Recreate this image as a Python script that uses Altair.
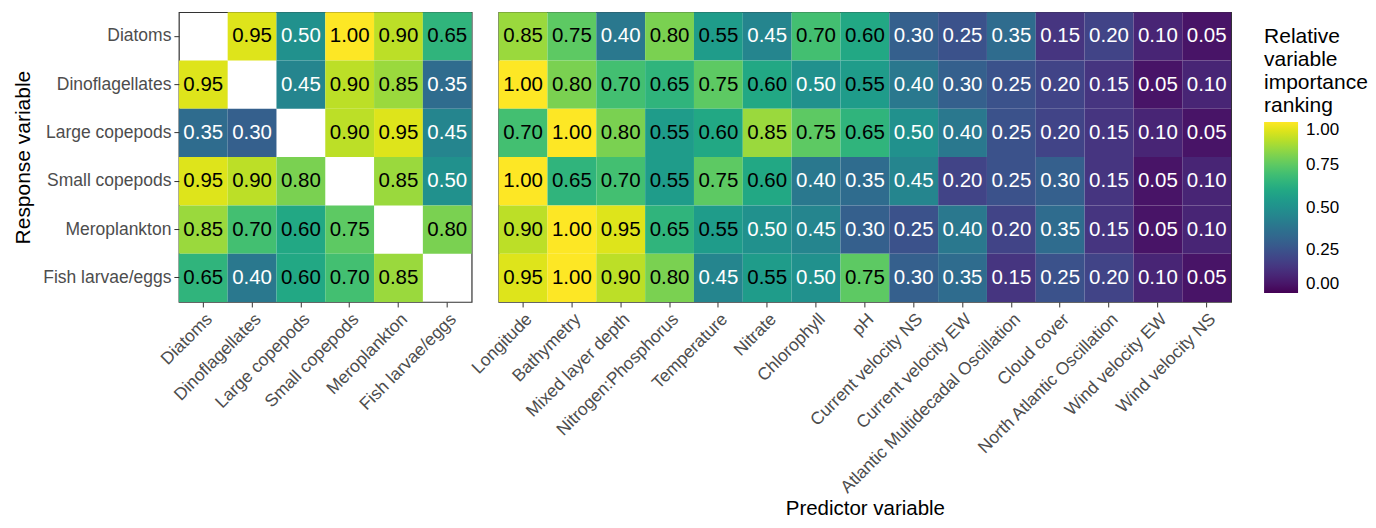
import altair as alt
import pandas as pd

responses = ["Diatoms", "Dinoflagellates", "Large copepods", "Small copepods",
             "Meroplankton", "Fish larvae/eggs"]

taxa_predictors = ["Diatoms", "Dinoflagellates", "Large copepods", "Small copepods",
                   "Meroplankton", "Fish larvae/eggs"]

env_predictors = ["Longitude", "Bathymetry", "Mixed layer depth", "Nitrogen:Phosphorus",
                  "Temperature", "Nitrate", "Chlorophyll", "pH", "Current velocity NS",
                  "Current velocity EW", "Atlantic Multidecadal Oscillation", "Cloud cover",
                  "North Atlantic Oscillation", "Wind velocity EW", "Wind velocity NS"]

# taxa panel (None = self, not drawn)
taxa_diatoms = [None, 0.95, 0.50, 1.00, 0.90, 0.65]
taxa_dinoflagellates = [0.95, None, 0.45, 0.90, 0.85, 0.35]
taxa_large_copepods = [0.35, 0.30, None, 0.90, 0.95, 0.45]
taxa_small_copepods = [0.95, 0.90, 0.80, None, 0.85, 0.50]
taxa_meroplankton = [0.85, 0.70, 0.60, 0.75, None, 0.80]
taxa_fish_larvae = [0.65, 0.40, 0.60, 0.70, 0.85, None]

# environmental panel
env_diatoms = [0.85, 0.75, 0.40, 0.80, 0.55, 0.45, 0.70, 0.60, 0.30, 0.25, 0.35, 0.15, 0.20, 0.10, 0.05]
env_dinoflagellates = [1.00, 0.80, 0.70, 0.65, 0.75, 0.60, 0.50, 0.55, 0.40, 0.30, 0.25, 0.20, 0.15, 0.05, 0.10]
env_large_copepods = [0.70, 1.00, 0.80, 0.55, 0.60, 0.85, 0.75, 0.65, 0.50, 0.40, 0.25, 0.20, 0.15, 0.10, 0.05]
env_small_copepods = [1.00, 0.65, 0.70, 0.55, 0.75, 0.60, 0.40, 0.35, 0.45, 0.20, 0.25, 0.30, 0.15, 0.05, 0.10]
env_meroplankton = [0.90, 1.00, 0.95, 0.65, 0.55, 0.50, 0.45, 0.30, 0.25, 0.40, 0.20, 0.35, 0.15, 0.05, 0.10]
env_fish_larvae = [0.95, 1.00, 0.90, 0.80, 0.45, 0.55, 0.50, 0.75, 0.30, 0.35, 0.15, 0.25, 0.20, 0.10, 0.05]

taxa_rows = [taxa_diatoms, taxa_dinoflagellates, taxa_large_copepods,
             taxa_small_copepods, taxa_meroplankton, taxa_fish_larvae]
env_rows = [env_diatoms, env_dinoflagellates, env_large_copepods,
            env_small_copepods, env_meroplankton, env_fish_larvae]


def long_df(rows, preds):
    out = []
    for r, vals in zip(responses, rows):
        for p, v in zip(preds, vals):
            if v is not None:
                out.append({"response": r, "predictor": p, "value": v})
    return pd.DataFrame(out)


df_taxa = long_df(taxa_rows, taxa_predictors)
df_env = long_df(env_rows, env_predictors)

color_scale = alt.Scale(scheme="viridis", domain=[0, 1])
legend = alt.Legend(
    title=["Relative", "variable", "importance", "ranking"],
    titleFontSize=21, titleFontWeight="normal", titleColor="black",
    titleLineHeight=23, titlePadding=6, titleFont="Liberation Sans",
    labelFontSize=17, labelColor="black", labelFont="Liberation Sans",
    labelOffset=8, gradientLength=171, gradientThickness=34,
    gradientStrokeWidth=0, values=[0, 0.25, 0.5, 0.75, 1.0], format=".2f",
    orient="none", direction="vertical", legendX=1086, legendY=14,
)

label_cond = alt.when(alt.datum.value > 0.5).then(alt.value("black")).otherwise(alt.value("white"))

PANEL_H = 290


def panel(df, preds, width, show_y, x_title):
    x_axis = alt.Axis(labelAngle=-45, labelFontSize=17.5, labelColor="#4d4d4d",
                      tickColor="#333333", tickSize=5, domain=False, labelPadding=3,
                      labelLimit=0, titleFontSize=20.5, titleFontWeight="normal",
                      titleColor="black", titlePadding=2)
    x = alt.X("predictor:N", sort=preds, scale=alt.Scale(domain=preds),
              title=x_title, axis=x_axis)
    if show_y:
        y = alt.Y("response:N", sort=responses, scale=alt.Scale(domain=responses),
                  title="Response variable",
                  axis=alt.Axis(labelFontSize=17.5, labelColor="#4d4d4d",
                                tickColor="#333333", tickSize=5, domain=False,
                                labelPadding=3, labelLimit=0, titleFontSize=21,
                                titleFontWeight="normal", titleColor="black",
                                titlePadding=9))
    else:
        y = alt.Y("response:N", sort=responses, scale=alt.Scale(domain=responses),
                  axis=None)
    base = alt.Chart(df).encode(x=x, y=y)
    rect = base.mark_rect().encode(
        color=alt.Color("value:Q", scale=color_scale, legend=legend)
    )
    text = base.mark_text(fontSize=20.5, font="Liberation Sans").encode(
        text=alt.Text("value:Q", format=".2f"),
        color=label_cond,
    )
    return (rect + text).properties(width=width, height=PANEL_H)


left = panel(df_taxa, taxa_predictors, 293, True, None)
right = panel(df_env, env_predictors, 733, False, "Predictor variable")

chart = alt.hconcat(left, right, spacing=27, bounds="flush").properties(
    padding={"left": 4, "top": 3, "right": 0, "bottom": 0}
).configure(
    font="Liberation Sans",
).configure_view(
    stroke="#333333", strokeWidth=1.2
)

chart.save("out.html", embed_options={"renderer": "svg", "actions": False})
